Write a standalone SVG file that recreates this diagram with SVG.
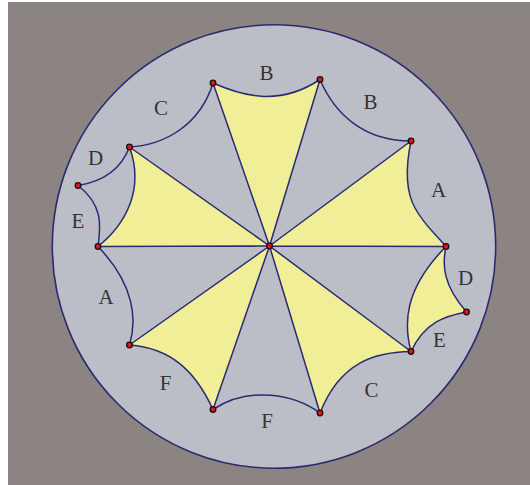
<svg xmlns="http://www.w3.org/2000/svg" width="530" height="485" viewBox="0 0 530 485">
<style>
.ln{fill:none;stroke:#2b2a70;stroke-width:1.5}
.y{fill:#f1ee98;stroke:none}
.n{fill:#e8101a;stroke:#111;stroke-width:1.3}
.t{font-family:"Liberation Serif","DejaVu Serif",serif;font-size:21px;fill:#333;text-anchor:middle}
</style>
<rect width="530" height="485" fill="#fff"/>
<rect x="8" y="2" width="522" height="483" fill="#8c8482"/>
<circle cx="274" cy="246.5" r="221.7" fill="#bbbec6" stroke="#2b2a70" stroke-width="1.6"/>
<g id="faces">
<path class="y" d="M269.5 246L213 83C245 97 280 106 320 79.5Z"/>
<path class="y" d="M269.5 246L411 141C406 165 405 190 415 208S432 230 446 246.5Z"/>
<path class="y" d="M446 246.5C442 265 443 285 466.5 312C445 316 425 322 411 351.5C404 325 403 290 446 246.5Z"/>
<path class="y" d="M269.5 246L411 351.5C375 352 340 362 320 413Z"/>
<path class="y" d="M269.5 246L213 409.5C195 370 170 348 129.5 345Z"/>
<path class="y" d="M269.5 246L98 246.5C125 225 145 190 129.5 147Z"/>
</g>
<g id="connectors">
<path class="ln" d="M269.5 246L213 83M269.5 246L320 79.5M269.5 246L411 141M269.5 246L446 246.5M269.5 246L411 351.5M269.5 246L320 413M269.5 246L213 409.5M269.5 246L129.5 345M269.5 246L98 246.5M269.5 246L129.5 147"/>
<path class="ln" d="M213 83C245 97 280 106 320 79.5"/>
<path class="ln" d="M320 79.5C335 115 365 141 411 141"/>
<path class="ln" d="M411 141C406 165 405 190 415 208S432 230 446 246.5"/>
<path class="ln" d="M446 246.5C442 265 443 285 466.5 312"/>
<path class="ln" d="M466.5 312C445 316 425 322 411 351.5"/>
<path class="ln" d="M411 351.5C404 325 403 290 446 246.5"/>
<path class="ln" d="M411 351.5C375 352 340 362 320 413"/>
<path class="ln" d="M320 413C295 395 250 385 213 409.5"/>
<path class="ln" d="M213 409.5C195 370 170 348 129.5 345"/>
<path class="ln" d="M129.5 345C137 320 135 285 98 246.5"/>
<path class="ln" d="M98 246.5C125 225 145 190 129.5 147"/>
<path class="ln" d="M98 246.5C101 225 103 205 78 185.5"/>
<path class="ln" d="M78 185.5C100 182 120 172 129.5 147"/>
<path class="ln" d="M129.5 147C165 145 200 125 213 83"/>
</g>
<g id="center"><circle class="n" cx="269.5" cy="246" r="2.8"/></g>
<g id="p1"><circle class="n" cx="213" cy="83" r="2.8"/></g>
<g id="p2"><circle class="n" cx="320" cy="79.5" r="2.8"/></g>
<g id="p3"><circle class="n" cx="411" cy="141" r="2.8"/></g>
<g id="p4"><circle class="n" cx="446" cy="246.5" r="2.8"/></g>
<g id="p5"><circle class="n" cx="466.5" cy="312" r="2.8"/></g>
<g id="p6"><circle class="n" cx="411" cy="351.5" r="2.8"/></g>
<g id="p7"><circle class="n" cx="320" cy="413" r="2.8"/></g>
<g id="p8"><circle class="n" cx="213" cy="409.5" r="2.8"/></g>
<g id="p9"><circle class="n" cx="129.5" cy="345" r="2.8"/></g>
<g id="p10"><circle class="n" cx="98" cy="246.5" r="2.8"/></g>
<g id="p11"><circle class="n" cx="78" cy="185.5" r="2.8"/></g>
<g id="p12"><circle class="n" cx="129.5" cy="147" r="2.8"/></g>
<g id="labels">
<text class="t" x="266.5" y="80">B</text>
<text class="t" x="370.5" y="109">B</text>
<text class="t" x="438.5" y="197">A</text>
<text class="t" x="465.5" y="285">D</text>
<text class="t" x="439.5" y="347">E</text>
<text class="t" x="371.5" y="397">C</text>
<text class="t" x="267" y="428">F</text>
<text class="t" x="165.5" y="390">F</text>
<text class="t" x="106" y="304">A</text>
<text class="t" x="78" y="228">E</text>
<text class="t" x="95.5" y="165">D</text>
<text class="t" x="161" y="115">C</text>
</g>
</svg>
